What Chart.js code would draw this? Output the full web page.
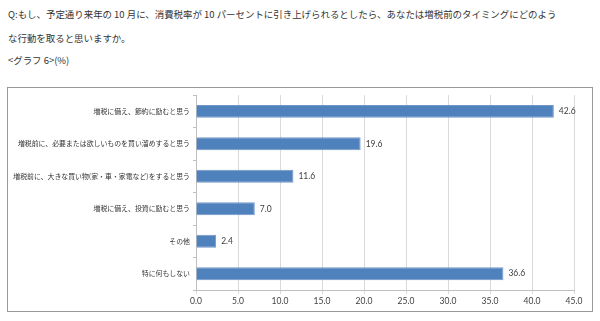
<!DOCTYPE html>
<html><head><meta charset="utf-8">
<script src="https://cdn.jsdelivr.net/npm/chart.js@4"></script>
<style>
html,body{margin:0;padding:0;background:#fff;}
body{width:600px;height:321px;position:relative;overflow:hidden;font-family:"Noto Sans CJK JP",sans-serif;color:#333;}
.t{position:absolute;left:8px;font-size:9.45px;white-space:nowrap;line-height:12px;}
#box{position:absolute;left:7px;top:87px;width:584px;height:223px;border:1px solid #999;}
</style></head><body>
<div class="t" style="top:8px">Q:もし、予定通り来年の 10 月に、消費税率が 10 パーセントに引き上げられるとしたら、あなたは増税前のタイミングにどのよう</div>
<div class="t" style="top:32px">な行動を取ると思いますか。</div>
<div class="t" style="top:54px">&lt;グラフ 6&gt;(%)</div>
<div id="box"><canvas id="c" width="584" height="223"></canvas></div>
<script>
const categories = ["増税に備え、節約に励むと思う","増税前に、必要または欲しいものを買い溜めすると思う","増税前に、大きな買い物(家・車・家電など)をすると思う","増税に備え、投資に励むと思う","その他","特に何もしない"];
const values = [42.6, 19.6, 11.6, 7.0, 2.4, 36.6];
const xTicks = [0,5,10,15,20,25,30,35,40,45];

const labelPlugin = {
  id:'vals',
  afterDatasetsDraw(chart){
    const ctx = chart.ctx;
    const meta = chart.getDatasetMeta(0);
    ctx.save();
    ctx.font = '8.5px Lato, "Open Sans", sans-serif';
    ctx.fillStyle = '#404040';
    ctx.textAlign = 'left';
    ctx.textBaseline = 'middle';
    meta.data.forEach((bar,i)=>{
      ctx.fillText(values[i].toFixed(1), bar.x + 5, bar.y);
    });
    ctx.restore();
  }
};

new Chart(document.getElementById('c'), {
  type:'bar',
  data:{labels:categories, datasets:[{data:values, backgroundColor:'#4F81BD', borderColor:'#7097CA', borderWidth:1, barPercentage:0.8, categoryPercentage:0.5}]},
  options:{
    indexAxis:'y', responsive:false, animation:false,
    layout:{padding:{top:4,right:18,left:0,bottom:0}},
    plugins:{legend:{display:false}, tooltip:{enabled:false}},
    scales:{
      x:{min:0,max:45,
        afterBuildTicks(s){ s.ticks = xTicks.map(v=>({value:v})); },
        afterFit(s){ s.height = 21; },
        grid:{color:'#D9D9D9', lineWidth:1, tickLength:4, tickColor:'#D9D9D9'},
        border:{color:'#BFBFBF'},
        ticks:{padding:2, color:'#404040', font:{family:'Lato, "Open Sans", sans-serif', size:8.5}, callback:(v)=>Number(v).toFixed(1)}
      },
      y:{
        afterFit(s){ s.width = 188; },
        grid:{offset:true, drawOnChartArea:false, tickLength:3, tickColor:'#BFBFBF'},
        border:{color:'#BFBFBF'},
        ticks:{padding:3, color:'#333', font:{family:'"Noto Sans CJK JP", sans-serif', size:6.9}}
      }
    }
  },
  plugins:[labelPlugin]
});
</script>
</body></html>
